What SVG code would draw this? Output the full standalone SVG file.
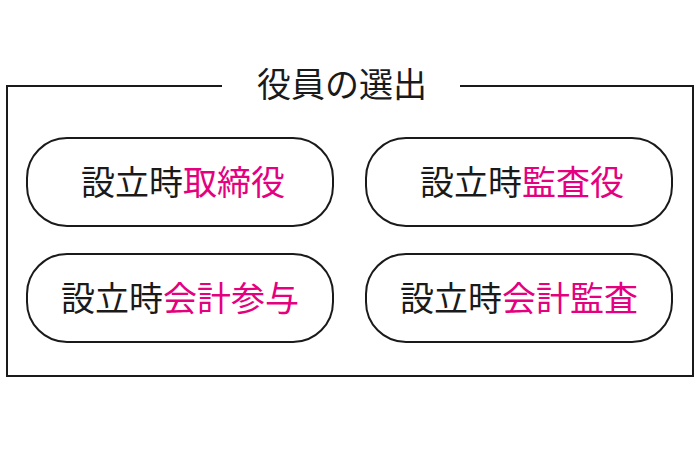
<svg xmlns="http://www.w3.org/2000/svg" width="700" height="450" viewBox="0 0 700 450">
<style>
text{font-family:"Noto Sans CJK JP",sans-serif;font-size:34px;fill:#1a1a1a;text-anchor:middle}
.p{fill:#e4007f}
.box{fill:#fff;stroke:#1a1a1a;stroke-width:2}
</style>
<rect width="700" height="450" fill="#fff"/>
<g id="frame">
<path d="M222 86H7V376H693V86H460" fill="none" stroke="#1a1a1a" stroke-width="2"/>
<text x="342" y="97">役員の選出</text>
</g>
<g id="connectors"/>
<g id="n1"><rect class="box" x="27" y="138" width="306" height="88" rx="40"/><text x="183" y="195">設立時<tspan class="p">取締役</tspan></text></g>
<g id="n2"><rect class="box" x="366" y="138" width="306" height="88" rx="40"/><text x="522" y="195">設立時<tspan class="p">監査役</tspan></text></g>
<g id="n3"><rect class="box" x="27" y="254" width="306" height="88" rx="40"/><text x="180" y="311">設立時<tspan class="p">会計参与</tspan></text></g>
<g id="n4"><rect class="box" x="366" y="254" width="306" height="88" rx="40"/><text x="519" y="311">設立時<tspan class="p">会計監査</tspan></text></g>
</svg>
